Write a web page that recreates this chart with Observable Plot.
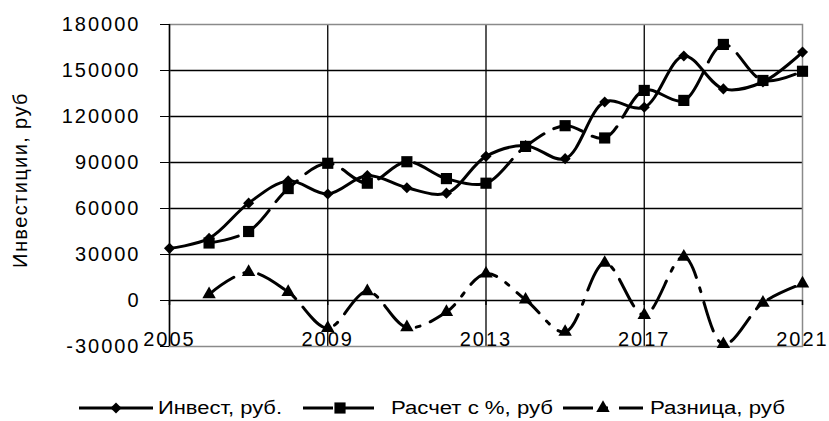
<!DOCTYPE html>
<html><head><meta charset="utf-8">
<script src="https://cdn.jsdelivr.net/npm/d3@7"></script>
<script src="https://cdn.jsdelivr.net/npm/@observablehq/plot@0.6"></script>
<style>
body{margin:0;background:#fff;font-family:"Liberation Sans",Arial,sans-serif;}
#legend{display:block;}
</style></head><body>
<div id="chart"></div>
<script>
// ---- data ----
const years = [2005,2006,2007,2008,2009,2010,2011,2012,2013,2014,2015,2016,2017,2018,2019,2020,2021];
const invest = [34000,40500,63500,78000,69500,81500,73500,70000,94000,101000,92500,129500,126000,159500,138000,142500,162000];
const raschetYears = [2006,2007,2008,2009,2010,2011,2012,2013,2014,2015,2016,2017,2018,2019,2020,2021];
const raschet = [37500,45000,73000,89500,76500,90500,79500,76500,100500,114000,106000,137000,130500,167000,143500,149500];
const raznicaYears = [2006,2007,2008,2009,2010,2011,2012,2013,2014,2015,2016,2017,2018,2019,2020,2021];
const raznica = [4000,18500,5500,-18000,6000,-17500,-7500,17500,500,-20500,24500,-9500,28500,-28500,-1500,11000];
const seriesNames = ["Инвест, руб.","Расчет с %, руб","Разница, руб"];
const yTicks = [-30000,0,30000,60000,90000,120000,150000,180000];
const xTicks = [2005,2009,2013,2017,2021];
const yTitle = "Инвестиции, руб";

const investRows = years.map((y,i)=>({year:y,value:invest[i]}));
const raschetRows = raschetYears.map((y,i)=>({year:y,value:raschet[i]}));
const raznicaRows = raznicaYears.map((y,i)=>({year:y,value:raznica[i]}));

const dash2 = "30,11";
const dash3 = "30,11,4,11";

const plot = Plot.plot({
  width:829, height:370,
  marginTop:24, marginBottom:24, marginLeft:169, marginRight:27,
  style:{fontFamily:"'Liberation Sans', Arial, sans-serif", fontSize:"20px", color:"#000", background:"#fff", overflow:"visible"},
  x:{domain:[2005,2021]},
  y:{domain:[-30000,180000]},
  marks:[
    Plot.gridY(yTicks.filter(v=>v>-30000 && v<180000), {stroke:"#000", strokeOpacity:1, strokeWidth:1.3}),
    Plot.gridX(xTicks.filter(v=>v>2005 && v<2021), {stroke:"#000", strokeOpacity:1, strokeWidth:1.3}),
    Plot.frame({stroke:"#8a8a8a", strokeWidth:1.5}),
    Plot.ruleX([2005], {stroke:"#000", strokeWidth:1.5}),
    Plot.ruleX(xTicks, {y1:0, y2:-3300, stroke:"#000", strokeWidth:1.5}),
    Plot.axisY(yTicks, {anchor:"left", tickSize:9, tickPadding:20, tickFormat:d=>String(d), label:null}),
    Plot.axisX(xTicks, {anchor:"bottom", tickSize:0, tickPadding:0, dy:-15, tickFormat:d=>String(d), label:null}),
    Plot.line(investRows, {x:"year", y:"value", curve:"catmull-rom", stroke:"#000", strokeWidth:3}),
    Plot.line(raschetRows, {x:"year", y:"value", curve:"catmull-rom", stroke:"#000", strokeWidth:3, strokeDasharray:dash2}),
    Plot.line(raznicaRows, {x:"year", y:"value", curve:"catmull-rom", stroke:"#000", strokeWidth:3, strokeDasharray:dash3}),
    Plot.dot(investRows, {x:"year", y:"value", symbol:"diamond2", r:5, fill:"#000", stroke:"none"}),
    Plot.dot(raschetRows, {x:"year", y:"value", symbol:"square", r:6.3, fill:"#000", stroke:"none"}),
    Plot.dot(raznicaRows, {x:"year", y:"value", symbol:"triangle", r:5, fill:"#000", stroke:"none"})
  ]
});
document.getElementById("chart").appendChild(plot);

// widen glyph spacing to match reference text widths
d3.select(plot).selectAll('g[aria-label="y-axis tick label"] text').attr("letter-spacing","2px");
d3.select(plot).selectAll('g[aria-label="x-axis tick label"] text').attr("letter-spacing","2px");

// y-axis title
d3.select(plot).append("text")
  .attr("transform","translate(27,180) rotate(-90)")
  .attr("text-anchor","middle").attr("font-size",20).attr("letter-spacing","1.4px")
  .attr("fill","#000").text(yTitle);

// ---- legend ----
const lg = d3.select("body").append("svg").attr("id","legend").attr("width",829).attr("height",51)
  .style("font-family","'Liberation Sans', Arial, sans-serif");
const items = [
  {x1:79,x2:153,mx:116,sym:d3.symbolDiamond2,size:Math.PI*25,dash:null,tx:158,tl:124},
  {x1:303,x2:377,mx:340,sym:d3.symbolSquare,size:Math.PI*6.3*6.3,dash:dash2,tx:391,tl:162},
  {x1:563,x2:643,mx:603,sym:d3.symbolTriangle,size:Math.PI*25,dash:dash3,tx:650,tl:135}
];
items.forEach((it,i)=>{
  const ly = 38;
  lg.append("line").attr("x1",it.x1).attr("x2",it.x2).attr("y1",ly).attr("y2",ly)
    .attr("stroke","#000").attr("stroke-width",3).attr("stroke-dasharray",it.dash);
  lg.append("path").attr("d",d3.symbol(it.sym,it.size)()).attr("transform",`translate(${it.mx},${ly})`).attr("fill","#000");
  lg.append("text").attr("x",it.tx).attr("y",44).attr("font-size",18).attr("fill","#000")
    .attr("textLength",it.tl).attr("lengthAdjust","spacingAndGlyphs").text(seriesNames[i]);
});
</script>
</body></html>
